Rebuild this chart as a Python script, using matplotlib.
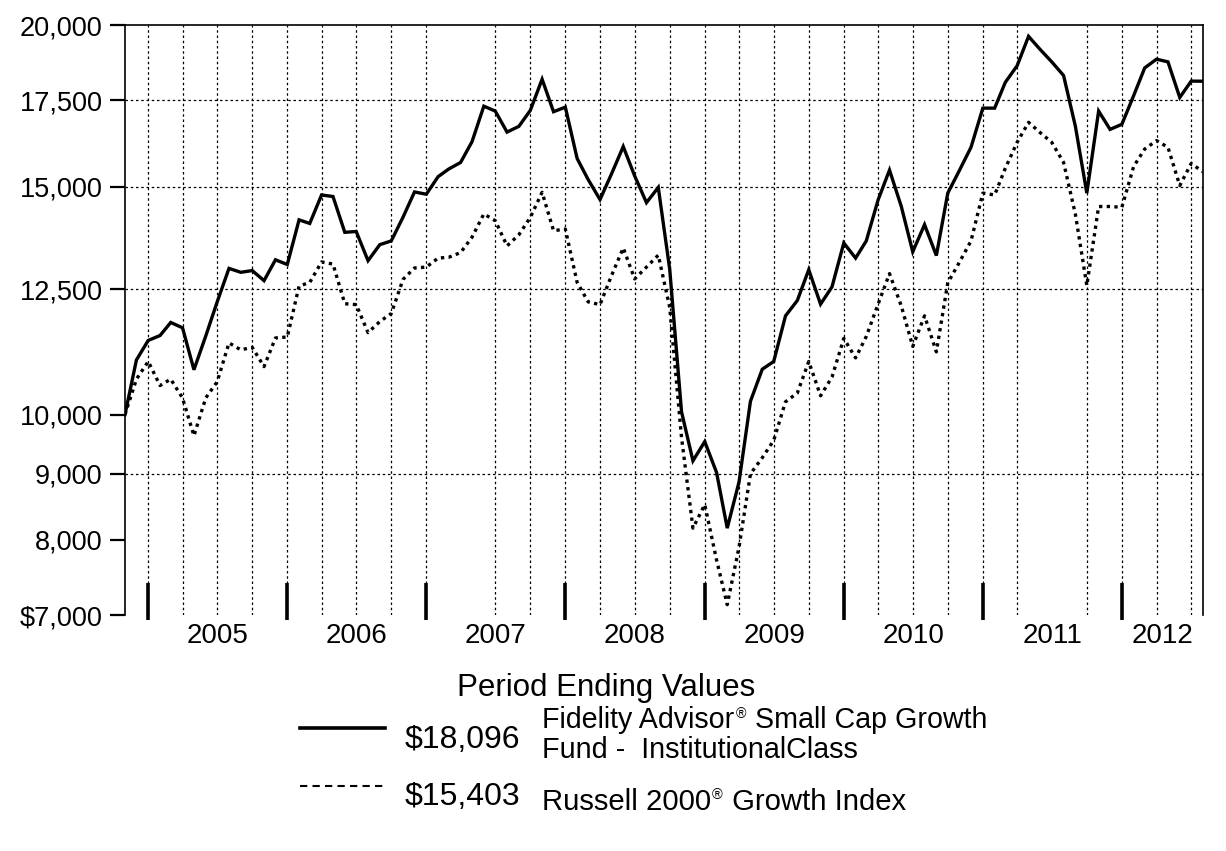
import matplotlib
matplotlib.use("Agg")
import matplotlib.pyplot as plt
from matplotlib.lines import Line2D
from matplotlib.ticker import NullLocator
import pandas as pd

plt.rcParams['font.family'] = ['Liberation Sans', 'DejaVu Sans']

# ---------------- data (month-end values of a hypothetical $10,000) ----------------
start_month = "2004-10-31"
n_months = 94
fund_values = [
    10000, 11020, 11410, 11510, 11780, 11670, 10830, 11500, 12220, 12970,
    12880, 12920, 12690, 13170, 13060, 14140, 14050, 14780, 14740, 13830,
    13850, 13150, 13530, 13620, 14210, 14860, 14800, 15270, 15480, 15660,
    16250, 17310, 17160, 16530, 16700, 17180, 18160, 17140, 17280, 15770,
    15190, 14660, 15340, 16110, 15290, 14580, 14980, 12950, 10050, 9210,
    9530, 9020, 8170, 8870, 10240, 10840, 10990, 11920, 12250, 12940,
    12170, 12550, 13570, 13210, 13620, 14650, 15450, 14480, 13360, 14020,
    13270, 14830, 15450, 16090, 17250, 17250, 18060, 18600, 19600, 19140,
    18730, 18280, 16700, 14830, 17160, 16610, 16760, 17640, 18530, 18820,
    18730, 17580, 18100, 18096,
]
index_values = [
    10000, 10650, 10990, 10530, 10650, 10300, 9630, 10300, 10600, 11360,
    11220, 11270, 10890, 11460, 11480, 12570, 12650, 13120, 13070, 12180,
    12160, 11570, 11800, 11970, 12720, 12980, 13000, 13210, 13230, 13340,
    13710, 14290, 14120, 13500, 13770, 14200, 14850, 13870, 13910, 12650,
    12220, 12160, 12800, 13450, 12730, 13000, 13280, 12100, 9600, 8170,
    8520, 7720, 7130, 7900, 9000, 9260, 9550, 10230, 10390, 10990,
    10340, 10690, 11450, 11060, 11490, 12170, 12850, 12130, 11290, 11920,
    11180, 12640, 13120, 13620, 14830, 14780, 15500, 16230, 16820, 16510,
    16230, 15660, 14280, 12580, 14480, 14480, 14460, 15550, 16040, 16280,
    16090, 15030, 15630, 15403,
]
y_ticks = [7000, 8000, 9000, 10000, 12500, 15000, 17500, 20000]
y_tick_labels = ["$7,000", "8,000", "9,000", "10,000", "12,500", "15,000", "17,500", "20,000"]
y_grid_values = [9000, 12500, 15000, 17500]
year_labels = [2005, 2006, 2007, 2008, 2009, 2010, 2011, 2012]
skipped_grid_quarters = ["2007-03-31", "2011-06-30"]

legend_title = "Period Ending Values"
fund_end_label = "$18,096"
index_end_label = "$15,403"

dates = pd.date_range(start_month, periods=n_months, freq="ME")

# ---------------- figure ----------------
W, H = 1226, 851
fig = plt.figure(figsize=(W / 100, H / 100), dpi=100)
ax = fig.add_axes([125 / W, 1 - 615 / H, 1078 / W, 590 / H])

ax.set_yscale("log")
ax.set_ylim(7000, 20000)
ax.set_xlim(dates[0], dates[-1])

# grid lines
grid_dates = [d for d in pd.date_range("2004-12-31", dates[-1], freq="QE")
              if d not in pd.to_datetime(skipped_grid_quarters)]
for d in grid_dates:
    ax.axvline(d, color="black", lw=0.9, linestyle=(0, (2, 2.2)), zorder=1)
for v in y_grid_values:
    ax.axhline(v, color="black", lw=0.9, linestyle=(0, (2, 2.2)), zorder=1)

# series
ax.plot(dates, fund_values, color="black", lw=2.4, solid_joinstyle="miter", zorder=3)
ax.plot(dates, index_values, color="black", lw=2.4, linestyle=(0, (1, 1.3)), zorder=3)

# y axis
ax.set_yticks(y_ticks)
ax.set_yticklabels(y_tick_labels)
ax.yaxis.set_minor_locator(NullLocator())
ax.tick_params(axis="y", length=11, width=1.6, pad=5, labelsize=19.5, colors="black")
ax.set_xticks([])
ax.xaxis.set_minor_locator(NullLocator())

for side in ["left", "top", "right"]:
    ax.spines[side].set_linewidth(1.2)
ax.spines["bottom"].set_visible(False)

# year boundary marks and labels
xtr = ax.get_xaxis_transform()
year_ends = pd.date_range("2004-12-31", "2011-12-31", freq="YE")
ax.vlines(year_ends, -0.008, 0.054, transform=xtr, color="black", lw=2.6, clip_on=False)
for yr in year_labels:
    s = max(pd.Timestamp(f"{yr - 1}-12-31"), dates[0])
    e = min(pd.Timestamp(f"{yr}-12-31"), dates[-1])
    c = s + (e - s) / 2
    ax.text(c, -(636 - 615) / 590, str(yr), transform=xtr, ha="center", va="center", fontsize=20)

# ---------------- legend ----------------
def fy(py):
    return 1 - py / H

fig.text(457 / W, fy(696), legend_title, fontsize=22.5, ha="left", va="baseline")
fig.add_artist(Line2D([300 / W, 385 / W], [fy(728), fy(728)], color="black", lw=2.6))
fig.add_artist(Line2D([300 / W, 385 / W], [fy(786), fy(786)], color="black", lw=1.5,
                      linestyle=(0, (3.5, 2.5))))
fig.text(405 / W, fy(748), fund_end_label, fontsize=23, ha="left", va="baseline")
fig.text(405 / W, fy(805), index_end_label, fontsize=23, ha="left", va="baseline")


def reg_text(x, base, parts, size):
    """parts: list of (text, is_superscript)"""
    prev = None
    for txt, sup in parts:
        fs = size * 0.5 if sup else size
        if prev is None:
            prev = fig.text(x / W, fy(base), txt, fontsize=fs, ha="left", va="baseline")
        else:
            off = (0.8, size * 0.36) if sup else (0.5, 0)
            prev = ax.annotate(txt, xy=(1, H - base), xycoords=(prev, "figure pixels"),
                               xytext=off, textcoords="offset points",
                               fontsize=fs, ha="left", va="baseline", annotation_clip=False)


reg_text(542, 728, [("Fidelity Advisor", False), ("\u00ae", True), (" Small Cap Growth", False)], 20.6)
fig.text(542 / W, fy(758), "Fund -  InstitutionalClass", fontsize=20.7, ha="left", va="baseline")
reg_text(542, 810, [("Russell 2000", False), ("\u00ae", True), (" Growth Index", False)], 21.1)

fig.savefig("out.png", dpi=100)
